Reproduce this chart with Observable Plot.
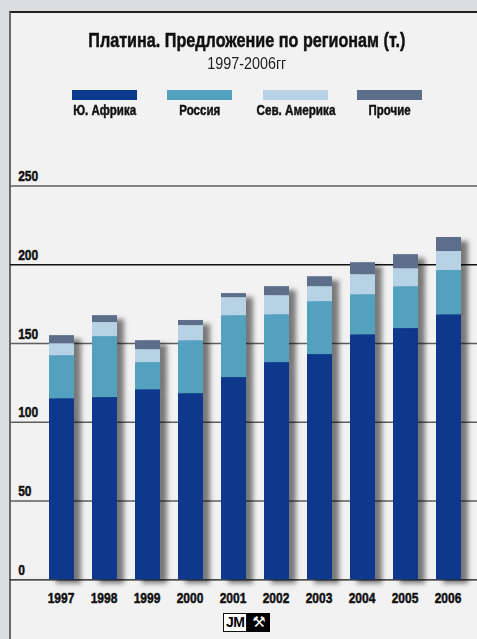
<!DOCTYPE html>
<html>
<head>
<meta charset="utf-8">
<script src="https://cdn.jsdelivr.net/npm/d3@7"></script>
<script src="https://cdn.jsdelivr.net/npm/@observablehq/plot@0.6"></script>
<style>
  html, body { margin: 0; padding: 0; }
  body { width: 477px; height: 639px; overflow: hidden; background: #dcdddf; position: relative;
         font-family: "Liberation Sans", Arial, sans-serif; }
  #panel { position: absolute; left: 9px; top: 11px; right: 0; bottom: 0; background: #f2f2f2;
           border-left: 2px solid #6a6a6a; border-top: 2px solid #222; }
  .row { position: absolute; left: 0; width: 493px; text-align: center; white-space: nowrap; }
  .row span, .lab span { display: inline-block; transform-origin: 50% 50%; }
  #title { top: 30.3px; font-weight: bold; font-size: 21px; line-height: 20px; color: #111; -webkit-text-stroke: 0.5px #111; }
  #subtitle { top: 54.6px; font-size: 17px; line-height: 17px; color: #222; }
  .sw { position: absolute; top: 90px; width: 65px; height: 10px; }
  .lab { position: absolute; top: 102.5px; width: 120px; text-align: center; font-weight: bold; font-size: 14.5px; line-height: 14px; color: #111; white-space: nowrap; -webkit-text-stroke: 0.45px #111; }
  #chart { position: absolute; left: 10px; top: 170px; }
  #logo { position: absolute; left: 223px; top: 613px; height: 19px; display: flex; }
  #logo .jm { border: 1px solid #111; background: #fff; font-weight: bold; font-size: 14px; line-height: 17px; padding: 0 2px; height: 17px; color: #000; letter-spacing: -0.5px; }
  #logo .hm { background: #000; color: #fff; font-family: "DejaVu Sans", sans-serif; font-size: 15px; line-height: 19px; width: 23px; text-align: center; height: 19px; }
</style>
</head>
<body>
<div id="panel"></div>
<div id="title" class="row"><span>Платина. Предложение по регионам (т.)</span></div>
<div id="subtitle" class="row"><span>1997-2006гг</span></div>
<div id="legend"></div>
<div id="chart"></div>
<div id="logo"><span class="jm">JM</span><span class="hm">⚒</span></div>
<script>
const years = ["1997","1998","1999","2000","2001","2002","2003","2004","2005","2006"];
const series = ["Ю. Африка", "Россия", "Сев. Америка", "Прочие"];
const colors = ["#0b398c", "#53a1bf", "#b6d2e4", "#5b6e8a"];
const southAfrica  = [115.0, 115.7, 120.7, 118.2, 128.4, 137.9, 143.0, 155.6, 159.5, 168.3];
const russia       = [27.3, 38.7, 17.2, 33.6, 39.3, 30.4, 33.6, 25.4, 26.6, 28.1];
const northAmerica = [7.6, 8.9, 8.2, 9.6, 11.4, 12.1, 9.5, 12.7, 11.4, 12.0];
const others       = [5.1, 4.4, 5.7, 3.2, 2.6, 5.7, 6.3, 7.6, 8.9, 8.9];
const yTicks = [0, 50, 100, 150, 200, 250];

const seriesValues = [southAfrica, russia, northAmerica, others];
const rows = [];
years.forEach((yr, i) => {
  series.forEach((s, j) => rows.push({year: yr, series: s, value: seriesValues[j][i]}));
});

// legend
const legend = document.getElementById("legend");
const swCenters = [104.5, 199.5, 295.5, 389.5];
const labWidths = [63, 41, 79, 42];
series.forEach((s, j) => {
  const sw = document.createElement("div");
  sw.className = "sw"; sw.style.left = (swCenters[j] - 32.5) + "px"; sw.style.background = colors[j];
  legend.appendChild(sw);
  const lb = document.createElement("div");
  lb.className = "lab"; lb.style.left = (swCenters[j] - 60) + "px";
  const sp = document.createElement("span"); sp.textContent = s; lb.appendChild(sp);
  legend.appendChild(lb);
  sp.style.transform = `scaleX(${labWidths[j] / sp.getBoundingClientRect().width})`;
});
// condensed look for title / subtitle
function fit(sel, w) {
  const sp = document.querySelector(sel + " span");
  sp.style.transform = `scaleX(${w / sp.getBoundingClientRect().width})`;
}
fit("#title", 317);
fit("#subtitle", 79);

const W = 467, H = 440, mL = 28.3, mR = 5.4, mT = 15.5, mB = 30.7;
const plot = Plot.plot({
  width: W, height: H,
  marginLeft: mL, marginRight: mR, marginTop: mT, marginBottom: mB,
  style: {background: "transparent", fontFamily: '"Liberation Sans", Arial, sans-serif', overflow: "visible"},
  x: {domain: years, paddingInner: 0.4245, paddingOuter: 0.2, label: null, axis: null},
  y: {domain: [0, 250], label: null, axis: null},
  color: {domain: series, range: colors},
  marks: [
    Plot.ruleY(yTicks, {y: d => d, stroke: d => (d === 0 || d === 200) ? "#111" : "#5e5e5e",
      strokeWidth: d => (d === 0 || d === 200) ? 1.3 : 1.6, insetLeft: -mL, insetRight: -mR}),
    Plot.barY(rows, Plot.stackY({x: "year", y: "value", fill: "series", order: null})),
    Plot.text(yTicks, {y: d => d, text: d => String(d), frameAnchor: "left", textAnchor: "start",
      lineAnchor: "bottom", dx: -20.6, dy: -5, fontSize: 15, fontWeight: "bold", fill: "#111",
      stroke: "#111", strokeWidth: 0.5}),
    Plot.text(years, {x: d => d, text: d => d, frameAnchor: "bottom", lineAnchor: "top",
      dx: -1, dy: 12.5, fontSize: 15, fontWeight: "bold", fill: "#111", stroke: "#111", strokeWidth: 0.5})
  ]
});
document.getElementById("chart").appendChild(plot);

// condensed look for SVG texts (scale horizontally around each anchor)
plot.querySelectorAll("text").forEach(t => {
  const tr = t.getAttribute("transform") || "";
  t.setAttribute("transform", tr + " scale(0.8,1)");
});

// drop shadow on bars
const svgNS = "http://www.w3.org/2000/svg";
const defs = document.createElementNS(svgNS, "defs");
defs.innerHTML = '<filter id="shadow" x="-30%" y="-10%" width="180%" height="130%">' +
  '<feDropShadow dx="7" dy="4" stdDeviation="2.6" flood-color="#000" flood-opacity="0.5"/></filter>';
plot.insertBefore(defs, plot.firstChild);
const barG = plot.querySelector('g[aria-label="bar"]');
if (barG) barG.setAttribute("filter", "url(#shadow)");
</script>
</body>
</html>
